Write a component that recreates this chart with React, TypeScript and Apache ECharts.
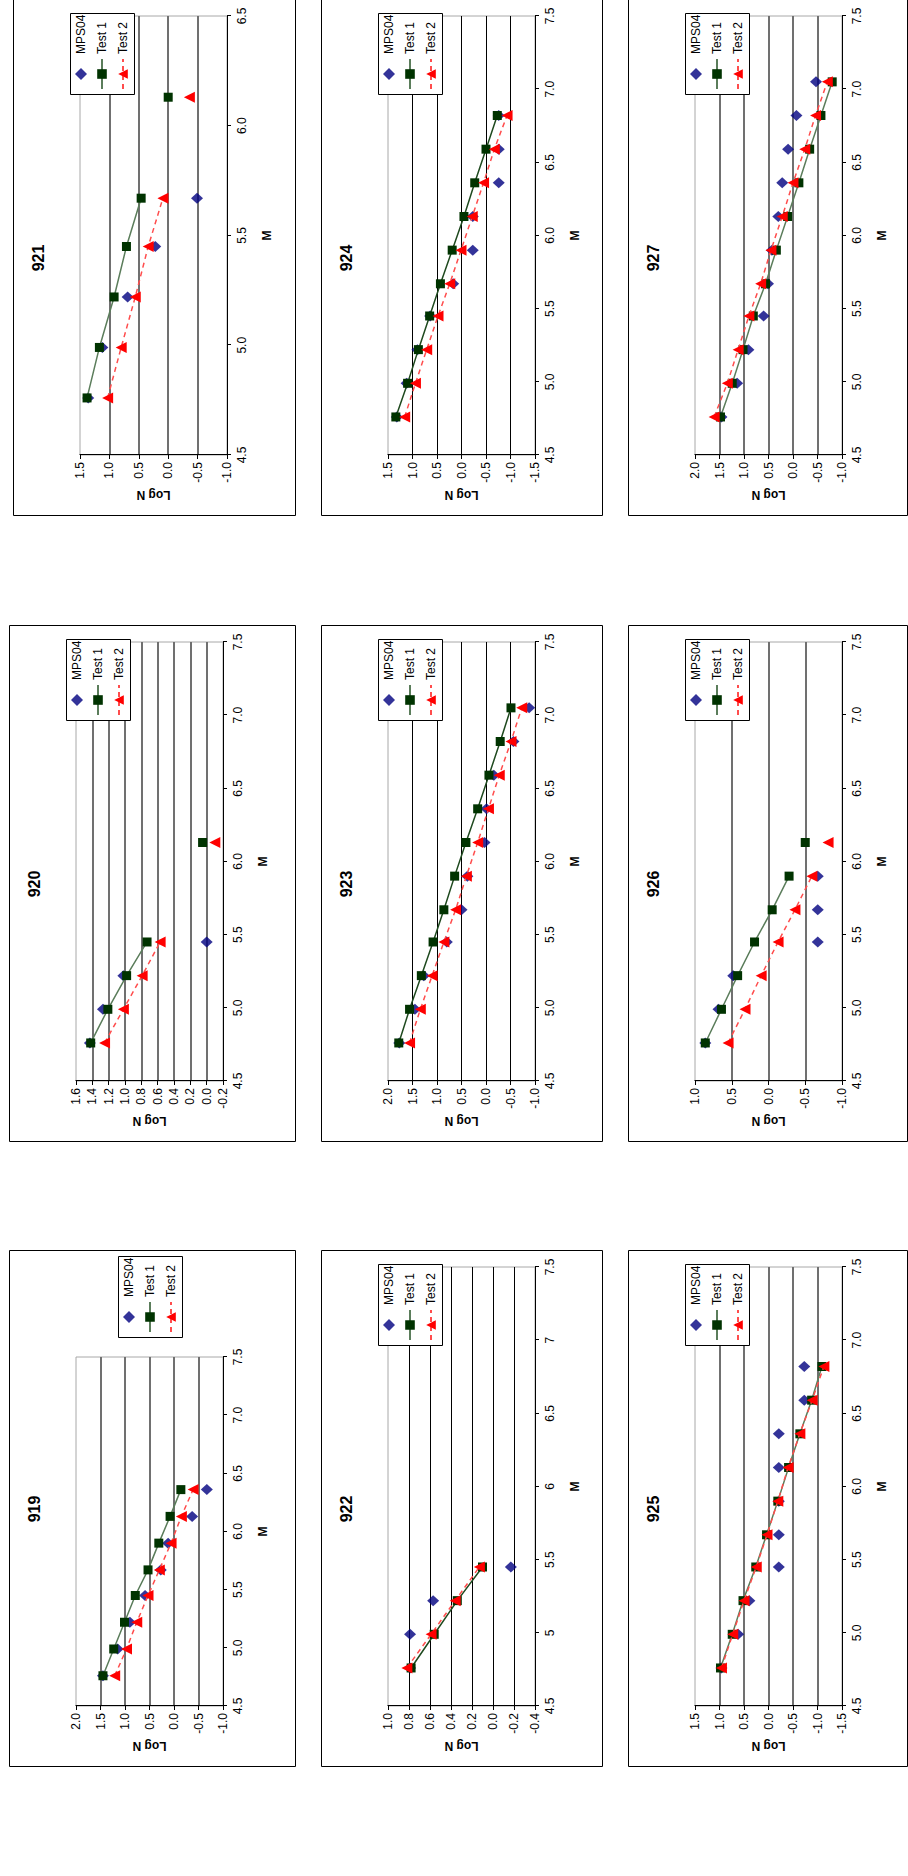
import React, { useEffect, useRef } from "react";
import * as echarts from "echarts";

// Magnitude bins (M) shared by every panel
const M_BINS = [4.76, 4.99, 5.22, 5.45, 5.67, 5.9, 6.13, 6.36, 6.59, 6.82, 7.05];
const SERIES_NAMES = ["MPS04", "Test 1", "Test 2"];

// Log N per magnitude bin (null = no value)
const MPS04_919 = [1.45, 1.15, 0.9, 0.59, 0.27, 0.12, -0.37, -0.67, null, null, null];
const TEST1_919 = [1.45, 1.23, 1.01, 0.79, 0.53, 0.31, 0.08, -0.14, null, null, null];
const TEST2_919 = [1.21, 0.97, 0.76, 0.53, 0.3, 0.06, -0.15, -0.39, null, null, null];

const MPS04_920 = [1.43, 1.27, 1.02, 0.0, null, null, null, null, null, null, null];
const TEST1_920 = [1.42, 1.21, 0.98, 0.73, null, null, 0.05, null, null, null, null];
const TEST2_920 = [1.25, 1.02, 0.79, 0.57, null, null, -0.1, null, null, null, null];

const MPS04_921 = [1.36, 1.12, 0.69, 0.22, -0.49, null, null, null, null, null, null];
const TEST1_921 = [1.38, 1.17, 0.92, 0.71, 0.46, null, 0.0, null, null, null, null];
const TEST2_921 = [1.03, 0.8, 0.56, 0.34, 0.09, null, -0.36, null, null, null, null];

const MPS04_922 = [0.79, 0.79, 0.57, -0.17, null, null, null, null, null, null, null];
const TEST1_922 = [0.78, 0.56, 0.34, 0.1, null, null, null, null, null, null, null];
const TEST2_922 = [0.82, 0.59, 0.36, 0.13, null, null, null, null, null, null, null];

const MPS04_923 = [1.77, 1.45, 1.27, 0.8, 0.5, 0.38, 0.03, -0.01, -0.16, -0.56, -0.88];
const TEST1_923 = [1.78, 1.56, 1.32, 1.08, 0.86, 0.64, 0.41, 0.17, -0.06, -0.29, -0.51];
const TEST2_923 = [1.56, 1.34, 1.1, 0.86, 0.62, 0.4, 0.17, -0.05, -0.27, -0.51, -0.73];

const MPS04_924 = [1.32, 1.12, 0.9, 0.64, 0.17, -0.23, -0.23, -0.76, -0.76, -0.76, null];
const TEST1_924 = [1.34, 1.1, 0.88, 0.65, 0.43, 0.19, -0.05, -0.27, -0.5, -0.73, null];
const TEST2_924 = [1.16, 0.94, 0.71, 0.48, 0.24, 0.01, -0.22, -0.45, -0.67, -0.93, null];

const MPS04_925 = [0.96, 0.62, 0.39, -0.21, -0.21, -0.21, -0.21, -0.21, -0.73, -0.73, null];
const TEST1_925 = [0.98, 0.74, 0.52, 0.26, 0.04, -0.19, -0.41, -0.64, -0.88, -1.09, null];
const TEST2_925 = [0.96, 0.73, 0.5, 0.25, 0.03, -0.19, -0.4, -0.64, -0.89, -1.13, null];

const MPS04_926 = [0.86, 0.68, 0.48, -0.67, -0.67, -0.67, null, null, null, null, null];
const TEST1_926 = [0.86, 0.64, 0.42, 0.19, -0.05, -0.28, -0.5, null, null, null, null];
const TEST2_926 = [0.55, 0.32, 0.1, -0.13, -0.36, -0.59, -0.81, null, null, null, null];

const MPS04_927 = [1.46, 1.14, 0.91, 0.6, 0.51, 0.43, 0.3, 0.22, 0.1, -0.07, -0.47];
const TEST1_927 = [1.48, 1.24, 1.02, 0.81, 0.56, 0.34, 0.11, -0.12, -0.34, -0.57, -0.8];
const TEST2_927 = [1.61, 1.34, 1.12, 0.9, 0.66, 0.45, 0.22, 0.0, -0.24, -0.46, -0.7];

// Axis ranges per panel: [min, max, step] of Log N
const LOG_RANGES: Record<string, [number, number, number]> = {
  "919": [-1, 2, 0.5],
  "920": [-0.2, 1.6, 0.2],
  "921": [-1, 1.5, 0.5],
  "922": [-0.4, 1.0, 0.2],
  "923": [-1, 2, 0.5],
  "924": [-1.5, 1.5, 0.5],
  "925": [-1.5, 1.5, 0.5],
  "926": [-1, 1, 0.5],
  "927": [-1, 2, 0.5],
};
const M_MAX: Record<string, number> = {
  "919": 7.5, "920": 7.5, "921": 6.5, "922": 7.5, "923": 7.5,
  "924": 7.5, "925": 7.5, "926": 7.5, "927": 7.5,
};

const VALUES: Record<string, (number | null)[][]> = {
  "919": [MPS04_919, TEST1_919, TEST2_919],
  "920": [MPS04_920, TEST1_920, TEST2_920],
  "921": [MPS04_921, TEST1_921, TEST2_921],
  "922": [MPS04_922, TEST1_922, TEST2_922],
  "923": [MPS04_923, TEST1_923, TEST2_923],
  "924": [MPS04_924, TEST1_924, TEST2_924],
  "925": [MPS04_925, TEST1_925, TEST2_925],
  "926": [MPS04_926, TEST1_926, TEST2_926],
  "927": [MPS04_927, TEST1_927, TEST2_927],
};

// Lines are not drawn across this bin boundary (index of last connected bin)
const LINE_BREAK_AFTER: Record<string, number> = { "926": 5 };

// Page layout (landscape sheet, 1876 x 908, turned a quarter for display)
type Layout = {
  id: string; row: number; x: number; y: number; w: number; h: number;
  gridW: number; legendOutside?: boolean; generalLabels?: boolean;
};
const LAYOUT: Layout[] = [
  { id: "919", row: 0, x: 109, y: 9, w: 516, h: 286, gridW: 349, legendOutside: true },
  { id: "920", row: 0, x: 734, y: 9, w: 516, h: 286, gridW: 439 },
  { id: "921", row: 0, x: 1360, y: 13, w: 520, h: 282, gridW: 439 },
  { id: "922", row: 1, x: 109, y: 321, w: 516, h: 281, gridW: 439, generalLabels: true },
  { id: "923", row: 1, x: 734, y: 321, w: 516, h: 281, gridW: 439 },
  { id: "924", row: 1, x: 1360, y: 321, w: 520, h: 281, gridW: 439 },
  { id: "925", row: 2, x: 109, y: 628, w: 516, h: 279, gridW: 439 },
  { id: "926", row: 2, x: 734, y: 628, w: 516, h: 279, gridW: 439 },
  { id: "927", row: 2, x: 1360, y: 628, w: 520, h: 279, gridW: 439 },
];

const FONT = "'Liberation Sans', Arial, sans-serif";
const DIAMOND_ICON = "path://M5 0L10 5L5 10L0 5Z";

const fmtLog = (v: number) => (Math.abs(v) < 1e-9 ? "0.0" : v.toFixed(1));

function buildOption() {
  const grid: any[] = [];
  const xAxis: any[] = [];
  const yAxis: any[] = [];
  const series: any[] = [];
  const legend: any[] = [];
  const graphic: any[] = [];

  LAYOUT.forEach((p, i) => {
    const [lMin, lMax, lStep] = LOG_RANGES[p.id];
    const [mps, t1, t2] = VALUES[p.id];
    const darkGrid = p.row === 1;

    // panel frame
    graphic.push({
      type: "rect",
      shape: { x: p.x + 0.5, y: p.y + 0.5, width: p.w, height: p.h },
      style: { fill: "none", stroke: "#000", lineWidth: 1 },
      silent: true,
    });
    // panel title
    graphic.push({
      type: "text",
      x: p.x + 258,
      y: p.y + 25,
      style: {
        text: p.id,
        font: `bold 16px ${FONT}`,
        fill: "#000",
        align: "center",
        verticalAlign: "middle",
        textAlign: "center",
        textVerticalAlign: "middle",
      },
      silent: true,
    });
    // legend frame
    const box = p.legendOutside
      ? { x: p.x + 429, y: p.y + 109 }
      : { x: p.x + 421, y: p.y + 57 };
    graphic.push({
      type: "rect",
      z: 10,
      shape: { x: box.x + 0.5, y: box.y + 0.5, width: 81, height: 64 },
      style: { fill: "#fff", stroke: "#000", lineWidth: 1 },
      silent: true,
    });
    legend.push({
      left: box.x + 5,
      top: box.y + 5,
      orient: "vertical",
      padding: 0,
      itemWidth: 30,
      itemHeight: 12,
      itemGap: 9,
      z: 20,
      selectedMode: false,
      symbolKeepAspect: true,
      data: [{ name: SERIES_NAMES[0], icon: DIAMOND_ICON }, SERIES_NAMES[1], SERIES_NAMES[2]],
      textStyle: { fontFamily: FONT, fontSize: 12, color: "#000" },
    });

    grid.push({
      left: p.x + 61,
      top: p.y + 67,
      width: p.gridW,
      height: 147,
      show: true,
      borderColor: "#a8a8a8",
      borderWidth: 1,
      backgroundColor: "#fff",
    });

    xAxis.push({
      type: "value",
      gridIndex: i,
      min: 4.5,
      max: M_MAX[p.id],
      interval: 0.5,
      name: "M",
      nameLocation: "middle",
      nameGap: 34,
      nameTextStyle: { fontFamily: FONT, fontSize: 12, fontWeight: "bold", color: "#000" },
      axisLine: { show: true, onZero: false, lineStyle: { color: "#000", width: 1 } },
      axisTick: { show: true, inside: false, length: 4, lineStyle: { color: "#000" } },
      axisLabel: {
        margin: 9,
        fontFamily: FONT,
        fontSize: 12,
        color: "#000",
        formatter: (v: number) => (p.generalLabels ? String(+v.toFixed(1)) : v.toFixed(1)),
      },
      splitLine: { show: false },
    });

    yAxis.push({
      type: "value",
      gridIndex: i,
      min: lMin,
      max: lMax,
      interval: lStep,
      name: "Log N",
      nameLocation: "middle",
      nameGap: 34,
      nameTextStyle: { fontFamily: FONT, fontSize: 12, fontWeight: "bold", color: "#000" },
      axisLine: { show: true, onZero: false, lineStyle: { color: "#000", width: 1 } },
      axisTick: { show: true, inside: false, length: 4, lineStyle: { color: "#000" } },
      axisLabel: { margin: 7, fontFamily: FONT, fontSize: 12, color: "#000", formatter: fmtLog },
      splitLine: {
        show: true,
        showMinLine: false,
        showMaxLine: false,
        lineStyle: { color: darkGrid ? "#000" : "#707070", width: darkGrid ? 1 : 2 },
      },
    });

    const pairs = (vals: (number | null)[]) => {
      const out: any[] = [];
      const brk = LINE_BREAK_AFTER[p.id];
      vals.forEach((v, k) => {
        out.push([M_BINS[k], v]);
        if (brk === k) out.push([(M_BINS[k] + M_BINS[k + 1]) / 2, null]);
      });
      return out;
    };

    series.push({
      name: "MPS04",
      type: "scatter",
      xAxisIndex: i,
      yAxisIndex: i,
      symbol: "diamond",
      symbolSize: [11, 12],
      itemStyle: { color: "#000080" },
      data: mps.map((v, k) => [M_BINS[k], v]).filter((d) => d[1] !== null),
      silent: true,
      z: 3,
    });
    series.push({
      name: "Test 1",
      type: "line",
      xAxisIndex: i,
      yAxisIndex: i,
      symbol: "rect",
      symbolSize: 9,
      showSymbol: true,
      connectNulls: false,
      itemStyle: { color: "#003300" },
      lineStyle: { color: darkGrid ? "#1f4a1f" : "#5b7d5b", width: 1.5 },
      data: pairs(t1),
      silent: true,
      z: 4,
    });
    series.push({
      name: "Test 2",
      type: "line",
      xAxisIndex: i,
      yAxisIndex: i,
      symbol: "triangle",
      symbolSize: 11,
      showSymbol: true,
      connectNulls: false,
      itemStyle: { color: "#ff0000" },
      lineStyle: { color: "#ff4d4d", width: 1.5, type: [5, 4] },
      data: pairs(t2),
      silent: true,
      z: 5,
    });
  });

  return {
    animation: false,
    backgroundColor: "#fff",
    textStyle: { fontFamily: FONT },
    tooltip: { show: false },
    grid,
    xAxis,
    yAxis,
    legend,
    graphic,
    series,
  };
}

export default function App() {
  const ref = useRef<HTMLDivElement>(null);

  useEffect(() => {
    if (!ref.current) return;
    const chart = echarts.init(ref.current, undefined, { renderer: "svg" });
    chart.setOption(buildOption() as any);
    return () => chart.dispose();
  }, []);

  return (
    <div
      style={{
        position: "absolute",
        left: 0,
        top: 0,
        width: 908,
        height: 1876,
        overflow: "hidden",
        background: "#fff",
      }}
    >
      <div
        ref={ref}
        style={{
          position: "absolute",
          left: 0,
          top: 0,
          width: 1876,
          height: 908,
          transformOrigin: "0 0",
          transform: "translateY(1876px) rotate(-90deg)",
        }}
      />
    </div>
  );
}
